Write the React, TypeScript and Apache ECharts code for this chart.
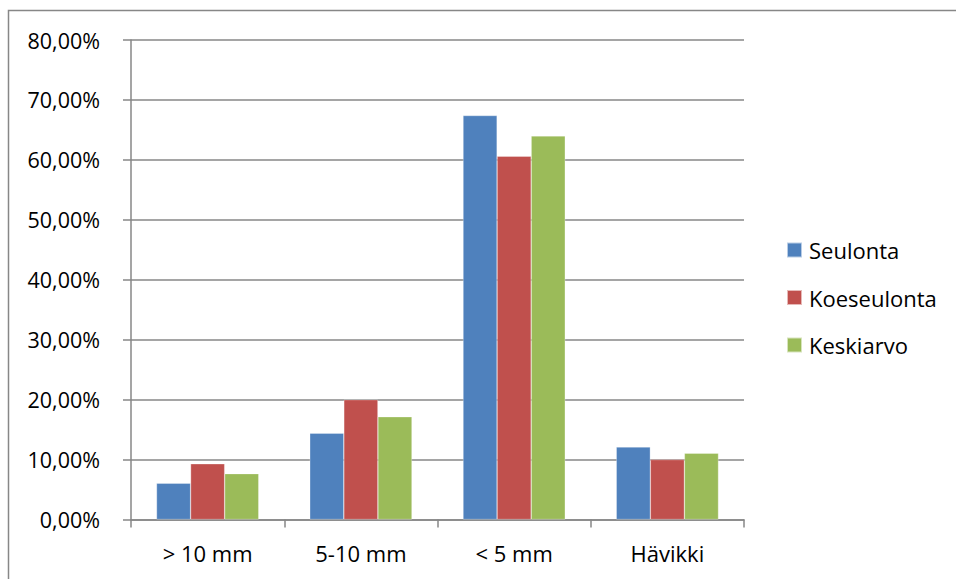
import React, { useEffect, useRef } from "react";
import * as echarts from "echarts";

const categories = ["> 10 mm", "5-10 mm", "< 5 mm", "Hävikki"];
const seulonta = [6.05, 14.4, 67.4, 12.1];
const koeseulonta = [9.3, 20.0, 60.6, 10.0];
const keskiarvo = [7.65, 17.15, 64.0, 11.05];
const seriesNames = ["Seulonta", "Koeseulonta", "Keskiarvo"];
const colors = ["#4F81BD", "#C0504D", "#9BBB59"];

const FONT = "'Open Sans', 'Liberation Sans', sans-serif";

export default function App() {
  const ref = useRef<HTMLDivElement>(null);
  useEffect(() => {
    if (!ref.current) return;
    const chart = echarts.init(ref.current, undefined, { renderer: "svg" });
    const data = [seulonta, koeseulonta, keskiarvo];
    chart.setOption({
      animation: false,
      backgroundColor: "#ffffff",
      grid: { left: 131, right: 212, top: 40, bottom: 59.5, containLabel: false },
      legend: {
        orient: "vertical",
        left: 786,
        top: 239,
        padding: 0,
        itemWidth: 15,
        itemHeight: 15,
        itemGap: 25.5,
        icon: "rect",
        textStyle: { fontFamily: FONT, fontSize: 22, color: "#000", padding: [0, 0, 0, 2] },
        data: seriesNames,
      },
      xAxis: {
        type: "category",
        data: categories,
        axisLine: { lineStyle: { color: "#878787", width: 1.5 } },
        axisTick: { show: true, length: 8, alignWithLabel: false, lineStyle: { color: "#878787", width: 1.5 } },
        axisLabel: { fontFamily: FONT, fontSize: 22, color: "#000", margin: 22 },
      },
      yAxis: {
        type: "value",
        min: 0,
        max: 80,
        interval: 10,
        axisLine: { show: true, lineStyle: { color: "#878787", width: 1.5 } },
        axisTick: { show: true, length: 8, lineStyle: { color: "#878787", width: 1.5 } },
        splitLine: { show: true, lineStyle: { color: "#878787", width: 1.5 } },
        axisLabel: {
          fontFamily: FONT,
          fontSize: 21.5,
          color: "#000",
          margin: 31,
          formatter: (v: number) => v.toFixed(2).replace(".", ",") + "%",
        },
      },
      series: seriesNames.map((name, i) => ({
        name,
        type: "bar",
        data: data[i],
        barGap: "0%",
        barCategoryGap: "33.3%",
        itemStyle: { color: colors[i], borderColor: "rgba(255,255,255,0.6)", borderWidth: 0.5 },
      })),
      graphic: [
        {
          type: "rect",
          shape: { x: 8.5, y: 10.5, width: 1000, height: 1000 },
          style: { fill: "none", stroke: "#878787", lineWidth: 1.5 },
          silent: true,
        },
      ],
    });
    return () => chart.dispose();
  }, []);
  return (
    <div
      ref={ref}
      style={{ position: "absolute", left: 0, top: 0, width: 956, height: 579 }}
    />
  );
}
